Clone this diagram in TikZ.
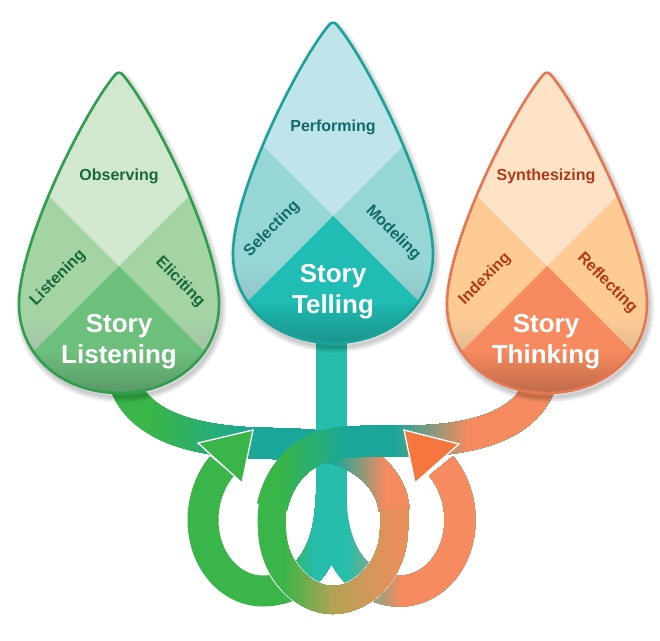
\documentclass[tikz,border=0pt]{standalone}
\usepackage{fontspec}
\setmainfont{Liberation Sans}
\definecolor{greedge}{HTML}{2F9E4F}
\definecolor{gretop}{HTML}{D1E8CF}
\definecolor{greside}{HTML}{A4D4A4}
\definecolor{greshade}{HTML}{A6C0A6}
\definecolor{grelow}{HTML}{6DC07C}
\definecolor{gredark}{HTML}{5A9868}
\definecolor{gretext}{HTML}{17693A}
\definecolor{teledge}{HTML}{1BA39A}
\definecolor{teltop}{HTML}{BFE4EA}
\definecolor{telside}{HTML}{96D6D5}
\definecolor{telshade}{HTML}{90C0C4}
\definecolor{tellow}{HTML}{1FBDB3}
\definecolor{teldark}{HTML}{199289}
\definecolor{teltext}{HTML}{116B68}
\definecolor{thiedge}{HTML}{E57752}
\definecolor{thitop}{HTML}{FFE3C7}
\definecolor{thiside}{HTML}{FFCB94}
\definecolor{thishade}{HTML}{DDB890}
\definecolor{thilow}{HTML}{F78A5E}
\definecolor{thidark}{HTML}{BC6A48}
\definecolor{thitext}{HTML}{B03A17}
\definecolor{ribgreen}{HTML}{39B54A}
\definecolor{ribteal}{HTML}{1AA79A}
\definecolor{ribstem}{HTML}{26BDAA}
\definecolor{ribolive}{HTML}{B5A255}
\definecolor{ribtan}{HTML}{E8905C}
\definecolor{riborange}{HTML}{F68B5F}
\definecolor{arrorange}{HTML}{F5763F}
\tikzset{
  band/.style={line width=31},
  ringband/.style={line width=28},
  head/.style={draw=white,line width=1.3,line join=miter},
  storytext/.style={text=white,font=\fontsize{26}{31}\selectfont\bfseries,align=center},
  skilltext/.style={font=\fontsize{16}{20}\selectfont\bfseries},
}
% colour runs from left to right along a stroked path
\newcommand{\gradband}[6]{
  \foreach \i in {0,...,24}{
    \pgfmathsetmacro\xs{#1+(#2-#1)*\i/24}
    \pgfmathsetmacro\pc{100-100*\i/24}
    \begin{scope}
      \clip (\xs,0) rectangle (660,640);
      \draw[#6,draw=#3!\pc!#4] #5;
    \end{scope}
  }
}
\def\droppath{(-4,3) .. controls (-2,0) and (2,0) .. (4,3) .. controls (35,40) and (100,170) .. (100,232) .. controls (100,285) and (55,321) .. (0,321) .. controls (-55,321) and (-100,285) .. (-100,232) .. controls (-100,170) and (-35,40) .. (-4,3) -- cycle}
\def\looplft{(222,466) .. controls (210,480) and (203,500) .. (203,520) .. controls (203,560) and (230,591) .. (263,591) .. controls (300,591) and (331,560) .. (331,495)}
\def\looprgt{(331,495) .. controls (331,560) and (363,591) .. (400,591) .. controls (433,591) and (460,560) .. (460,520) .. controls (460,500) and (453,480) .. (441,466)}
\def\armlft{(125,385) .. controls (140,425) and (190,440) .. (253,443) .. controls (290,444) and (320,444) .. (340,450) .. controls (365,458) and (392,480) .. (394,510)}
\def\armrgt{(272,507) .. controls (282,462) and (315,443) .. (350,442) .. controls (365,441) and (385,441) .. (412,441) .. controls (475,440) and (525,425) .. (540,385)}
\def\ringlow{(276,490) .. controls (272,503) and (271,518) .. (272,530) .. controls (273,570) and (303,600) .. (333,600) .. controls (363,600) and (393,570) .. (394,530) .. controls (394.5,522) and (394.5,516) .. (394,510)}
\begin{document}
\begin{tikzpicture}[x=1pt,y=-1pt]
\useasboundingbox (0,0) rectangle (660,640);
% loops and stem
\draw[band,draw=ribgreen] \looplft;
\gradband{283}{313}{ribgreen}{ribstem}{\looplft}{band}
\draw[band,draw=ribstem] \looprgt;
\gradband{347}{400}{ribstem}{riborange}{\looprgt}{band}
\fill[ribstem] (315.5,340) rectangle (347,500);
% left arm
\draw[band,draw=ribgreen] \armlft;
\gradband{150}{255}{ribgreen}{ribteal}{\armlft}{band}
\gradband{333}{385}{ribteal}{riborange}{\armlft}{band}
% ring
\begin{scope}
  \clip (0,535) rectangle (660,640);
  \draw[line width=30,white] \ringlow;
\end{scope}
\draw[ringband,draw=ribgreen] \ringlow;
\gradband{283}{333}{ribgreen}{ribolive}{\ringlow}{ringband}
\gradband{333}{394}{ribolive}{ribtan}{\ringlow}{ringband}
% right arm
\draw[band,draw=ribgreen] \armrgt;
\gradband{280}{347}{ribgreen}{ribteal}{\armrgt}{band}
\gradband{393}{467}{ribteal}{riborange}{\armrgt}{band}
% arrow heads
\draw[head,fill=ribgreen] (253,430) -- (198,443) -- (242,483) -- cycle;
\draw[head,fill=arrorange] (404,430) -- (459,444) -- (415,483) -- cycle;
% the three drops
\foreach \cx/\cy/\base in {119/72/gre,333/22/tel,547/72/thi}{
  \begin{scope}[shift={(\cx,\cy)}]
    \foreach \w in {1,3,...,11}
      \path[draw=black,opacity=.04,line width=\w,shift={(2,4)}] \droppath;
    \begin{scope}
      \clip \droppath;
      \fill[\base side] (-120,-5) rectangle (120,330);
      \shade[top color=\base side,bottom color=\base shade] (-120,245) rectangle (120,282);
      \fill[\base top] (0,194) -- (-200,-6) -- (200,-6) -- cycle;
      \fill[\base low] (0,194) -- (-84,278) -- (84,278) -- cycle;
      \shade[top color=\base low,bottom color=\base dark] (-120,278) rectangle (120,322);
    \end{scope}
    \draw[\base edge,line width=2.6,line join=round] \droppath;
  \end{scope}
}
% labels
\node[skilltext,text=gretext] (observing) at (119,176) {Observing};
\node[skilltext,text=gretext,rotate=45] (listening) at (58,278) {Listening};
\node[skilltext,text=gretext,rotate=-45] (eliciting) at (180,282) {Eliciting};
\node[storytext] (storylistening) at (119,342) {Story\\Listening};
\node[skilltext,text=teltext] (performing) at (333,127) {Performing};
\node[skilltext,text=teltext,rotate=45] (selecting) at (272,229) {Selecting};
\node[skilltext,text=teltext,rotate=-45] (modeling) at (393,233) {Modeling};
\node[storytext] (storytelling) at (333,292) {Story\\Telling};
\node[skilltext,text=thitext] (synthesizing) at (546,176) {Synthesizing};
\node[skilltext,text=thitext,rotate=45] (indexing) at (485,279) {Indexing};
\node[skilltext,text=thitext,rotate=-45] (reflecting) at (607,283) {Reflecting};
\node[storytext] (storythinking) at (546,342) {Story\\Thinking};
\end{tikzpicture}
\end{document}
